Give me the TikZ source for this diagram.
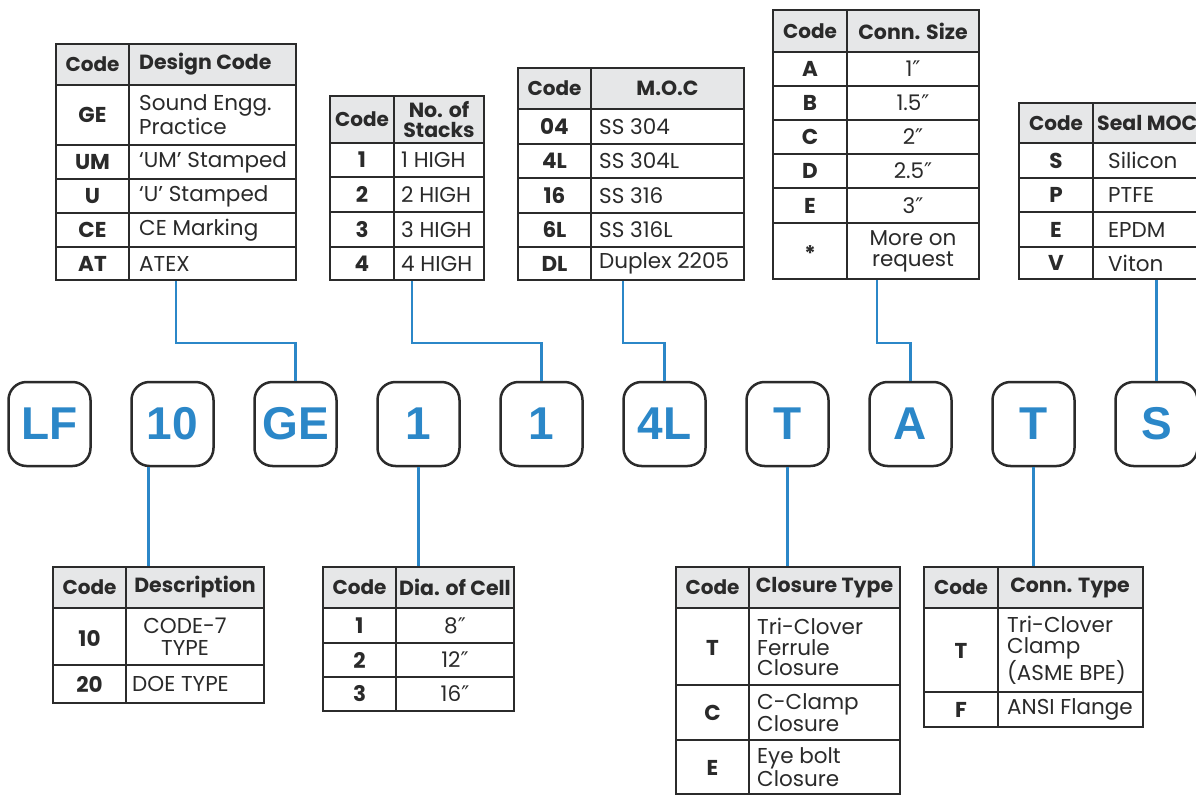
\documentclass[tikz,border=0pt]{standalone}
\usepackage{fontspec}
\setmainfont{Poppins}
\newfontfamily\badgefont{Liberation Sans}
\newfontfamily\dvfont{DejaVu Sans}
\usetikzlibrary{fit}
\definecolor{bl}{HTML}{2B87C8}
\definecolor{hdrgray}{HTML}{E6E7E8}
\definecolor{lnc}{HTML}{2B2B2B}
\definecolor{txc}{HTML}{2A2A2A}
\newcommand\dq{{\dvfont ″}}
\tikzset{
  tline/.style={draw=lnc, line width=2pt},
  tblbox/.style={draw=lnc, line width=2pt, inner sep=0pt, rectangle},
  hdrfill/.style={fill=hdrgray},
  code/.style={font=\fontsize{21.5}{23}\selectfont\bfseries, text=txc, inner sep=0pt},
  codeh/.style={font=\fontsize{20}{22}\selectfont\bfseries, text=txc, inner sep=0pt},
  hd/.style={font=\fontsize{20.5}{20}\selectfont\bfseries, text=txc, inner sep=0pt, align=center},
  bd/.style={font=\fontsize{21.5}{23}\selectfont, text=txc, inner sep=0pt, align=left},
  bdc/.style={font=\fontsize{21.5}{23}\selectfont, text=txc, inner sep=0pt, align=center},
  badge/.style={draw=lnc, line width=2.5pt, rounded corners=18pt, minimum width=82pt, minimum height=84pt, inner sep=0pt, text=bl, font=\fontsize{46}{46}\selectfont\badgefont\bfseries},
  conn/.style={draw=bl, line width=2.5pt}
}
% #1 name, #2 x0, #3 y0, #4 x1, #5 y1, #6 divider x, #7 header bottom
\newcommand\ctable[7]{%
  \fill[hdrfill] (#2,#3) rectangle (#4,#7);
  \draw[tline] (#6,#3) -- (#6,#5);
  \draw[tline] (#2,#7) -- (#4,#7);
  \node[tblbox, fit={(#2,#3) (#4,#5)}] (#1) {};
}
\begin{document}
\begin{tikzpicture}[x=1pt,y=-1pt]
\useasboundingbox (0,0) rectangle (1196,795);
\clip (0,0) rectangle (1196,795);
\fill[white] (0,0) rectangle (1196,795);

% ---------- Table 1: Design Code
\ctable{t1}{56}{44}{296}{280}{129}{85}
\foreach \y in {145,179,213,247} \draw[tline] (56,\y) -- (296,\y);
\node[codeh] (t1h1) at (92.5,64.5) {Code};
\node[hd, anchor=west] (t1h2) at (139,64.5) {Design Code};
\node[code] (t1c1) at (92.5,115) {GE};
\node[bd, anchor=west, font=\fontsize{21.5}{24}\selectfont] (t1d1) at (139,115) {Sound Engg.\\Practice};
\node[code] (t1c2) at (92.5,162) {UM};
\node[bd, anchor=west] (t1d2) at (139,162) {‘UM’ Stamped};
\node[code] (t1c3) at (92.5,196) {U};
\node[bd, anchor=west] (t1d3) at (139,196) {‘U’ Stamped};
\node[code] (t1c4) at (92.5,230) {CE};
\node[bd, anchor=west] (t1d4) at (139,230) {CE Marking};
\node[code] (t1c5) at (92.5,263.5) {AT};
\node[bd, anchor=west] (t1d5) at (139,263.5) {ATEX};

% ---------- Table 2: No. of Stacks
\ctable{t2}{330}{96}{484}{280}{394}{143}
\foreach \y in {177,212,247} \draw[tline] (330,\y) -- (484,\y);
\node[codeh] (t2h1) at (362,119.5) {Code};
\node[hd] (t2h2) at (439,119.5) {No. of\\Stacks};
\node[code] (t2c1) at (362,160) {1};
\node[bd, anchor=west] (t2d1) at (401,160) {1 HIGH};
\node[code] (t2c2) at (362,194.5) {2};
\node[bd, anchor=west] (t2d2) at (401,194.5) {2 HIGH};
\node[code] (t2c3) at (362,229.5) {3};
\node[bd, anchor=west] (t2d3) at (401,229.5) {3 HIGH};
\node[code] (t2c4) at (362,263.5) {4};
\node[bd, anchor=west] (t2d4) at (401,263.5) {4 HIGH};

% ---------- Table 3: M.O.C
\ctable{t3}{518}{68}{744}{280}{591}{109}
\foreach \y in {144,178,213,247} \draw[tline] (518,\y) -- (744,\y);
\node[codeh] (t3h1) at (554.5,88.5) {Code};
\node[hd] (t3h2) at (667.5,88.5) {M.O.C};
\node[code] (t3c1) at (554.5,126.5) {04};
\node[bd, anchor=west] (t3d1) at (599,126.5) {SS 304};
\node[code] (t3c2) at (554.5,161) {4L};
\node[bd, anchor=west] (t3d2) at (599,161) {SS 304L};
\node[code] (t3c3) at (554.5,195.5) {16};
\node[bd, anchor=west] (t3d3) at (599,195.5) {SS 316};
\node[code] (t3c4) at (554.5,230) {6L};
\node[bd, anchor=west] (t3d4) at (599,230) {SS 316L};
\node[code] (t3c5) at (554.5,263.5) {DL};
\node[bd, anchor=west] (t3d5) at (599,263.5) {Duplex 2205};

% ---------- Table 4: Conn. Size
\ctable{t4}{773}{10}{979}{279}{847}{52}
\foreach \y in {86,120,154,188,223} \draw[tline] (773,\y) -- (979,\y);
\node[codeh] (t4h1) at (810,31) {Code};
\node[hd] (t4h2) at (913,31) {Conn. Size};
\node[code] (t4c1) at (810,69) {A};
\node[bdc] (t4d1) at (913,69) {1\dq};
\node[code] (t4c2) at (810,103) {B};
\node[bdc] (t4d2) at (913,103) {1.5\dq};
\node[code] (t4c3) at (810,137) {C};
\node[bdc] (t4d3) at (913,137) {2\dq};
\node[code] (t4c4) at (810,171) {D};
\node[bdc] (t4d4) at (913,171) {2.5\dq};
\node[code] (t4c5) at (810,205.5) {E};
\node[bdc] (t4d5) at (913,205.5) {3\dq};
\node[code] (t4c6) at (810,254) {*};
\node[bdc, font=\fontsize{21.5}{21}\selectfont] (t4d6) at (913,251) {More on\\request};

% ---------- Table 5: Seal MOC
\ctable{t5}{1019}{103}{1210}{279}{1093}{143}
\foreach \y in {178,212,247} \draw[tline] (1019,\y) -- (1210,\y);
\node[codeh] (t5h1) at (1056,123) {Code};
\node[hd, anchor=west] (t5h2) at (1097,123) {Seal MOC};
\node[code] (t5c1) at (1056,160.5) {S};
\node[bd, anchor=west] (t5d1) at (1108,160.5) {Silicon};
\node[code] (t5c2) at (1056,195) {P};
\node[bd, anchor=west] (t5d2) at (1108,195) {PTFE};
\node[code] (t5c3) at (1056,229.5) {E};
\node[bd, anchor=west] (t5d3) at (1108,229.5) {EPDM};
\node[code] (t5c4) at (1056,263) {V};
\node[bd, anchor=west] (t5d4) at (1108,263) {Viton};

% ---------- Table 6: Description
\ctable{t6}{53}{567}{264}{703}{126}{608}
\draw[tline] (53,665) -- (264,665);
\node[codeh] (t6h1) at (89.5,587.5) {Code};
\node[hd] (t6h2) at (195,587.5) {Description};
\node[code] (t6c1) at (89.5,638) {10};
\node[bdc, font=\fontsize{21.5}{21.5}\selectfont] (t6d1) at (185,636.5) {CODE-7\\TYPE};
\node[code] (t6c2) at (89.5,684) {20};
\node[bd, anchor=west] (t6d2) at (132,684) {DOE TYPE};

% ---------- Table 7: Dia. of Cell
\ctable{t7}{323}{567}{514}{711}{396}{608}
\foreach \y in {643,677} \draw[tline] (323,\y) -- (514,\y);
\node[codeh] (t7h1) at (359.5,587.5) {Code};
\node[hd] (t7h2) at (455,587.5) {Dia. of Cell};
\node[code] (t7c1) at (359.5,625.5) {1};
\node[bdc] (t7d1) at (455,625.5) {8\dq};
\node[code] (t7c2) at (359.5,660) {2};
\node[bdc] (t7d2) at (455,660) {12\dq};
\node[code] (t7c3) at (359.5,694) {3};
\node[bdc] (t7d3) at (455,694) {16\dq};

% ---------- Table 8: Closure Type
\ctable{t8}{676}{567}{900}{794}{749}{608}
\foreach \y in {685,740} \draw[tline] (676,\y) -- (900,\y);
\node[codeh] (t8h1) at (712.5,587.5) {Code};
\node[hd] (t8h2) at (824.5,587.5) {Closure Type};
\node[code] (t8c1) at (712.5,648) {T};
\node[bd, anchor=west, font=\fontsize{21.5}{20.5}\selectfont] (t8d1) at (757,647) {Tri-Clover\\Ferrule\\Closure};
\node[code] (t8c2) at (712.5,713) {C};
\node[bd, anchor=west, font=\fontsize{21.5}{19.5}\selectfont] (t8d2) at (757,712.5) {C-Clamp\\Closure};
\node[code] (t8c3) at (712.5,768) {E};
\node[bd, anchor=west, font=\fontsize{21.5}{20}\selectfont] (t8d3) at (757,767) {Eye bolt\\Closure};

% ---------- Table 9: Conn. Type
\ctable{t9}{924}{567}{1143}{727}{998}{608}
\draw[tline] (924,692) -- (1143,692);
\node[codeh] (t9h1) at (961,587.5) {Code};
\node[hd] (t9h2) at (1070,587.5) {Conn. Type};
\node[code] (t9c1) at (961,651) {T};
\node[bd, anchor=west, font=\fontsize{21.5}{21}\selectfont] (t9d1) at (1007,650) {Tri-Clover\\Clamp\\(ASME BPE)};
\node[code] (t9c2) at (961,710) {F};
\node[bd, anchor=west] (t9d2) at (1007,709.5) {ANSI Flange};

% ---------- Badges
\node[badge] (b1) at (49.5,424) {LF};
\node[badge] (b2) at (172.5,424) {10};
\node[badge] (b3) at (295.5,424) {GE};
\node[badge] (b4) at (418.5,424) {1};
\node[badge] (b5) at (541.5,424) {1};
\node[badge] (b6) at (664.5,424) {4L};
\node[badge] (b7) at (787.5,424) {T};
\node[badge] (b8) at (910.5,424) {A};
\node[badge] (b9) at (1033.5,424) {T};
\node[badge] (b10) at (1156.5,424) {S};

% ---------- Connectors (top)
\draw[conn] (t1.south) -- ++(0,62) -| (b3.north);
\draw[conn] ([xshift=5pt]t2.south) -- ++(0,62) -| (b5.north);
\draw[conn] ([xshift=-8pt]t3.south) -- ++(0,62) -| (b6.north);
\draw[conn] ([xshift=1pt]t4.south) -- ++(0,63) -| (b8.north);
\draw[conn] (b10.north |- t5.south) -- (b10.north);
% ---------- Connectors (bottom)
\draw[conn] ([xshift=-24pt]b2.south) -- ([xshift=-24pt]b2.south |- t6.north);
\draw[conn] (b4.south) -- (b4.south |- t7.north);
\draw[conn] (b7.south) -- (b7.south |- t8.north);
\draw[conn] (b9.south) -- (b9.south |- t9.north);
\end{tikzpicture}
\end{document}
